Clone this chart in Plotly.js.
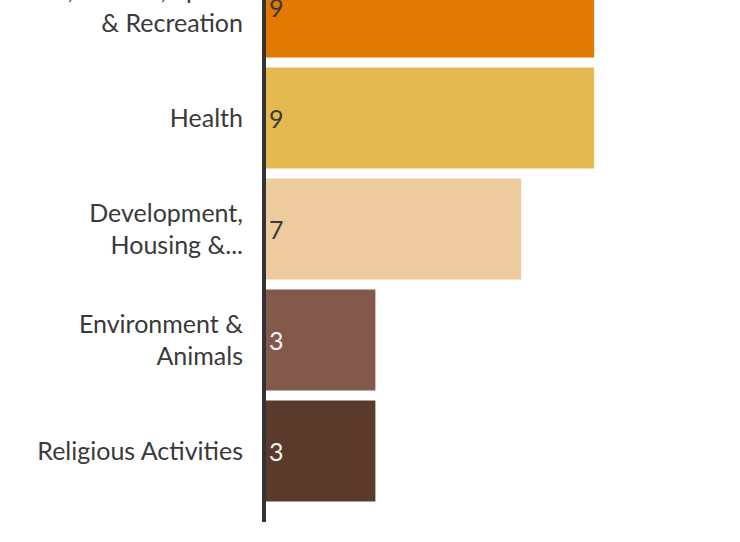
<!DOCTYPE html>
<html>
<head>
<meta charset="utf-8">
<script src="https://cdn.plot.ly/plotly-3.0.1.min.js"></script>
<style>html,body{margin:0;padding:0;background:#fff;}#chart{width:740px;height:542px;}</style>
</head>
<body>
<div id="chart"></div>
<script>
// Data (bottom to top)
const categories = [
  "Religious Activities",
  "Environment &<br>Animals",
  "Development,<br>Housing &...",
  "Health",
  "Arts, Culture, Sports<br>& Recreation"
];
const values = [3, 3, 7, 9, 9];
const barColors = ["#5A3A2B", "#82594A", "#EECA9F", "#E4BA50", "#E27900"];
const textColors = ["#f2f2f2", "#f2f2f2", "#3a3a3a", "#3a3a3a", "#3a3a3a"];

const trace = {
  type: "bar",
  orientation: "h",
  y: categories,
  x: values,
  marker: { color: barColors },
  text: values.map(String),
  textposition: "inside",
  insidetextanchor: "start",
  textangle: 0,
  textfont: { family: "Lato, 'Noto Sans', sans-serif", size: 25, color: textColors },
  cliponaxis: true,
  hoverinfo: "skip"
};

const layout = {
  width: 740,
  height: 542,
  margin: { l: 266, r: 0, t: 0, b: 20, pad: 0 },
  paper_bgcolor: "#ffffff",
  plot_bgcolor: "#ffffff",
  showlegend: false,
  bargap: 0.09,
  font: { family: "Lato, 'Noto Sans', sans-serif", size: 25, color: "#3a3a3a" },
  xaxis: {
    range: [0, 13],
    showgrid: false,
    zeroline: false,
    showline: false,
    showticklabels: false,
    ticks: ""
  },
  yaxis: {
    type: "category",
    categoryorder: "array",
    categoryarray: categories,
    range: [-0.639, 4.063],
    showgrid: false,
    zeroline: false,
    showline: true,
    linecolor: "#333333",
    linewidth: 4,
    ticks: "",
    ticklabelstandoff: 14,
    tickfont: { family: "Lato, 'Noto Sans', sans-serif", size: 25, color: "#3a3a3a" }
  }
};

Plotly.newPlot("chart", [trace], layout, { displayModeBar: false, staticPlot: true });
</script>
</body>
</html>
